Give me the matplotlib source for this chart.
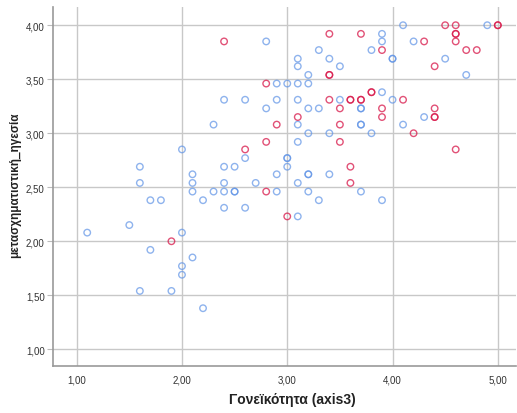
import matplotlib
matplotlib.use('Agg')
import matplotlib.pyplot as plt
from matplotlib.ticker import FuncFormatter

plt.rcParams['font.family'] = ['Liberation Sans', 'DejaVu Sans']

# ομάδα 1 (μπλε)
blue_x = [2.0, 1.6, 2.1, 1.6, 2.1, 2.1, 1.7, 1.8, 2.2, 1.5, 1.1, 2.0, 1.7, 2.1, 2.0, 2.0, 1.6, 1.9, 2.2,
          2.8, 3.3, 3.1, 3.4, 3.1, 3.5, 3.2, 2.9, 3.0, 3.1, 3.2, 2.4, 2.6, 2.9, 3.1, 3.5, 2.8, 3.2, 3.3,
          2.3, 3.1, 3.2, 3.4, 3.1, 2.6, 3.0, 3.0, 2.4, 2.5, 3.0, 2.9, 3.2, 3.2, 3.4,
          2.4, 2.7, 3.1, 2.3, 2.4, 2.5, 2.5, 2.9, 3.2, 3.7, 3.3, 3.9, 2.4, 2.6, 3.1,
          4.1, 4.9, 3.9, 3.9, 4.2, 3.8, 4.0, 4.0, 4.5, 4.7, 3.9, 4.0, 3.7, 3.7, 4.3, 3.7, 3.7, 4.1, 3.8]
blue_y = [2.85, 2.69, 2.62, 2.54, 2.54, 2.46, 2.38, 2.38, 2.38, 2.15, 2.08, 2.08, 1.92, 1.85, 1.77, 1.69, 1.54, 1.54, 1.38,
          3.85, 3.77, 3.69, 3.69, 3.62, 3.62, 3.54, 3.46, 3.46, 3.46, 3.46, 3.31, 3.31, 3.31, 3.31, 3.31, 3.23, 3.23, 3.23,
          3.08, 3.08, 3.00, 3.00, 2.92, 2.77, 2.77, 2.77, 2.69, 2.69, 2.69, 2.62, 2.62, 2.62, 2.62,
          2.54, 2.54, 2.54, 2.46, 2.46, 2.46, 2.46, 2.46, 2.46, 2.46, 2.38, 2.38, 2.31, 2.31, 2.23,
          4.00, 4.00, 3.92, 3.85, 3.85, 3.77, 3.69, 3.69, 3.69, 3.54, 3.38, 3.31, 3.23, 3.23, 3.15, 3.08, 3.08, 3.08, 3.00]

# ομάδα 2 (κόκκινη)
red_x = [1.9, 3.4, 2.4, 3.4, 3.4, 2.8, 3.4, 3.6, 3.6, 3.5, 3.1, 2.9, 3.5, 2.8, 3.5, 2.6, 3.6, 3.6, 2.8, 3.0,
         4.5, 4.6, 5.0, 5.0, 3.7, 4.6, 4.6, 4.3, 4.6, 3.9, 4.7, 4.8, 4.4, 3.8, 3.8, 3.7, 3.7, 4.1, 3.9, 4.4,
         3.9, 4.4, 4.4, 4.2, 4.6]
red_y = [2.00, 3.92, 3.85, 3.54, 3.54, 3.46, 3.31, 3.31, 3.31, 3.23, 3.15, 3.08, 3.08, 2.92, 2.92, 2.85, 2.69, 2.54, 2.46, 2.23,
         4.00, 4.00, 4.00, 4.00, 3.92, 3.92, 3.92, 3.85, 3.85, 3.77, 3.77, 3.77, 3.62, 3.38, 3.38, 3.31, 3.31, 3.31, 3.23, 3.23,
         3.15, 3.15, 3.15, 3.00, 2.85]

x_ticks = [1, 2, 3, 4, 5]
y_ticks = [1.0, 1.5, 2.0, 2.5, 3.0, 3.5, 4.0]

fig = plt.figure(figsize=(5.17, 4.14), dpi=100)
ax = fig.add_axes([0.1025, 0.1135, 0.895, 0.8675])

ax.scatter(blue_x, blue_y, s=22, facecolors='none', edgecolors='#5f93e6', linewidths=1.0, alpha=0.7, zorder=3)
ax.scatter(red_x, red_y, s=22, facecolors='none', edgecolors='#d8184a', linewidths=1.0, alpha=0.75, zorder=4)

ax.set_xlim(0.775, 5.17)
ax.set_ylim(0.845, 4.17)
ax.set_xticks(x_ticks)
ax.set_yticks(y_ticks)
comma = FuncFormatter(lambda v, p: ('%.2f' % v).replace('.', ','))
ax.xaxis.set_major_formatter(comma)
ax.yaxis.set_major_formatter(comma)
ax.tick_params(axis='x', length=0, labelsize=7, pad=6, colors='#333333')
ax.tick_params(axis='y', length=4, labelsize=7, pad=2, color='#bbbbbb', labelcolor='#333333')

ax.grid(True, color='#c8c8c8', linewidth=1.0, zorder=0)
ax.set_axisbelow(True)
for s in ['top', 'right']:
    ax.spines[s].set_visible(False)
for s in ['left', 'bottom']:
    ax.spines[s].set_color('#999999')
    ax.spines[s].set_linewidth(1.2)

# titles of the axes
fig.text(0.565, 0.034, 'Γονεϊκότητα (axis3)', fontsize=10, fontweight='bold',
         color='#222222', ha='center', va='center')
fig.text(0.03, 0.553, 'μετασχηματιστική_ηγεσία', fontsize=8.5, fontweight='bold',
         color='#222222', ha='center', va='center', rotation=90)

plt.savefig('out.png', dpi=100)
plt.close()
